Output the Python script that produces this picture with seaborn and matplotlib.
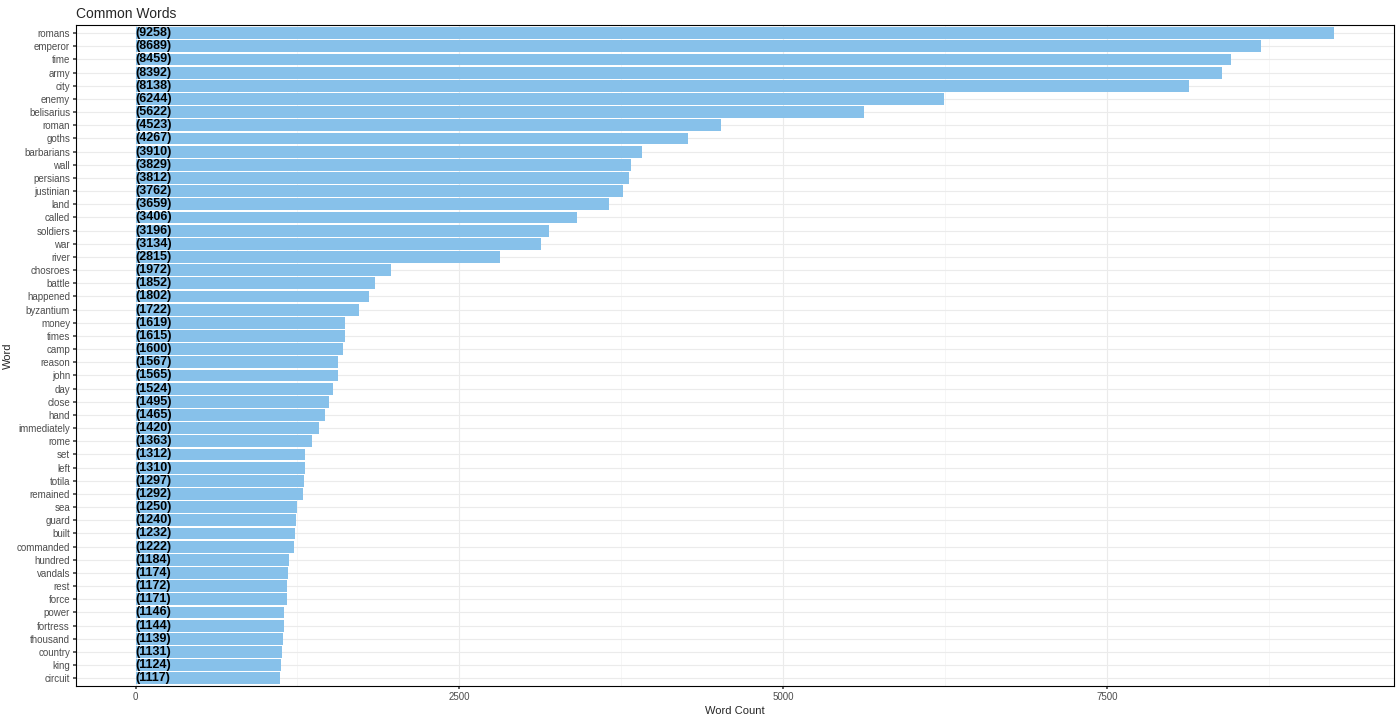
import matplotlib
matplotlib.use("Agg")
import matplotlib.pyplot as plt
import seaborn as sns
import pandas as pd
from matplotlib.ticker import MultipleLocator

words = ["romans","emperor","time","army","city","enemy","belisarius","roman","goths","barbarians",
         "wall","persians","justinian","land","called","soldiers","war","river","chosroes","battle",
         "happened","byzantium","money","times","camp","reason","john","day","close","hand",
         "immediately","rome","set","left","totila","remained","sea","guard","built","commanded",
         "hundred","vandals","rest","force","power","fortress","thousand","country","king","circuit"]
counts = [9258,8689,8459,8392,8138,6244,5622,4523,4267,3910,
          3829,3812,3762,3659,3406,3196,3134,2815,1972,1852,
          1802,1722,1619,1615,1600,1567,1565,1524,1495,1465,
          1420,1363,1312,1310,1297,1292,1250,1240,1232,1222,
          1184,1174,1172,1171,1146,1144,1139,1131,1124,1117]
df = pd.DataFrame({"word": words, "n": counts})

sns.set_theme(style="white")
plt.rcParams['font.family'] = ['Liberation Sans', 'DejaVu Sans']
fig = plt.figure(figsize=(14, 7.2), dpi=100)
ax = fig.add_axes([0.054, 0.047, 0.942, 0.918])
ax.set_axisbelow(True)
sns.barplot(data=df, y="word", x="n", color="#87C1EA", saturation=1, width=0.9,
            linewidth=0, ax=ax)
for i, v in enumerate(counts):
    ax.text(0, i, f"({v})", ha="left", va="center", fontsize=9, fontweight="bold", color="black")
ax.set_xlim(-463, 9721)
ax.set_ylim(len(words)-0.4, -0.6)
ax.xaxis.set_major_locator(MultipleLocator(2500))
ax.xaxis.set_minor_locator(MultipleLocator(1250))
ax.grid(which="major", color="#EBEBEB", lw=0.8)
ax.grid(which="minor", axis="x", color="#F3F3F3", lw=0.5)
for s in ax.spines.values():
    s.set_color("black"); s.set_linewidth(0.8)
ax.tick_params(axis="both", labelsize=7, colors="#4D4D4D", length=2, left=True, bottom=True, pad=2)
ax.set_xlabel("Word Count", fontsize=8, labelpad=3)
ax.set_ylabel("Word", fontsize=8, labelpad=3)
ax.set_title("Common Words", loc="left", fontsize=10, pad=5)
fig.savefig("out.png", dpi=100)
